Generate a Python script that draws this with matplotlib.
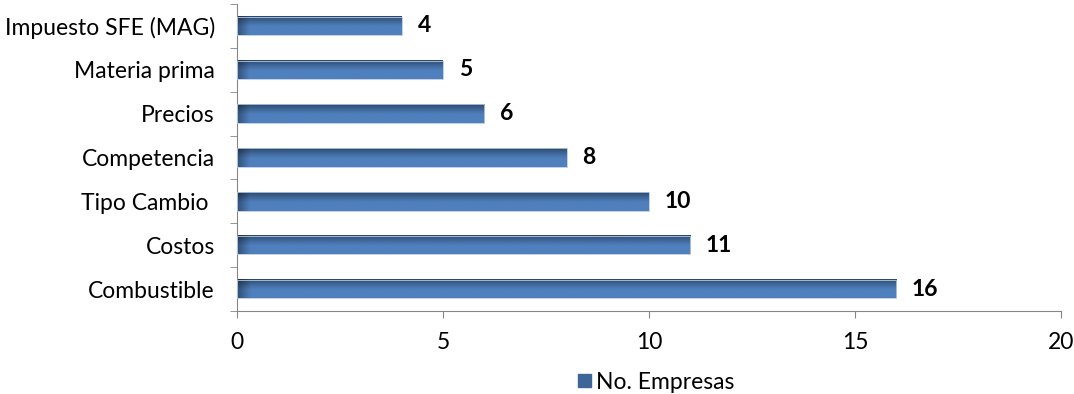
import numpy as np
import matplotlib.pyplot as plt
from matplotlib.colors import to_rgb
from matplotlib.patches import Rectangle

plt.rcParams['font.family'] = ['Lato', 'DejaVu Sans']

# categorías de abajo hacia arriba
categorias = ['Combustible', 'Costos', 'Tipo Cambio ', 'Competencia',
              'Precios', 'Materia prima', 'Impuesto SFE (MAG)']
empresas = [16, 11, 10, 8, 6, 5, 4]
serie = 'No. Empresas'

oscuro = np.array(to_rgb('#2a4669'))
claro = np.array(to_rgb('#4f80bd'))
alto = 0.42
fs = 16.5

fig = plt.figure(figsize=(10.74, 3.94), dpi=100)
ax = fig.add_axes([0.2207, 0.2107, 0.7672, 0.779])

# gradiente vertical (oscuro arriba) y sombra a la izquierda
ny, nx = 40, 200
t = np.linspace(0, 1, ny)[:, None]
v = np.clip(t / 0.55, 0, 1) ** 0.8
grad = oscuro[None, None, :] * (1 - v[..., None]) + claro[None, None, :] * v[..., None]
grad = np.repeat(grad, nx, axis=1)

y = np.arange(len(categorias))
for yi, val in zip(y, empresas):
    sx = np.linspace(0, val, nx)
    sombra = np.clip(1 - sx / 0.3, 0, 1)[None, :, None] * 0.35
    img = grad * (1 - sombra)
    ax.imshow(img, extent=(0, val, yi - alto / 2, yi + alto / 2),
              aspect='auto', interpolation='bilinear', zorder=2)
    ax.add_patch(Rectangle((0, yi - alto / 2), val, alto, fill=False,
                           edgecolor='#b9c9e0', lw=0.6, zorder=3))
    ax.text(val + 0.38, yi, str(val), va='center', ha='left',
            fontsize=fs, fontweight='bold', color='black')

ax.set_xlim(0, 20)
ax.set_ylim(-0.5, len(categorias) - 0.5)
ax.set_xticks([0, 5, 10, 15, 20])
ax.tick_params(axis='x', labelsize=fs, length=5, color='#868686', pad=10)
ax.set_yticks(y)
ax.set_yticklabels(categorias, fontsize=fs)
ax.tick_params(axis='y', length=0, pad=16)
ax.set_yticks(np.arange(-0.5, len(categorias)), minor=True)
ax.tick_params(axis='y', which='minor', length=5, color='#868686')

for s in ['top', 'right']:
    ax.spines[s].set_visible(False)
for s in ['left', 'bottom']:
    ax.spines[s].set_color('#868686')

handle = Rectangle((0, 0), 1, 1, facecolor='#3d6597', edgecolor='#3d6597')
fig.legend([handle], [serie], loc='center', bbox_to_anchor=(0.611, 0.03),
           frameon=False, fontsize=fs, handlelength=0.55, handleheight=0.55,
           handletextpad=0.2, borderpad=0)

fig.savefig('out.png', dpi=100)
